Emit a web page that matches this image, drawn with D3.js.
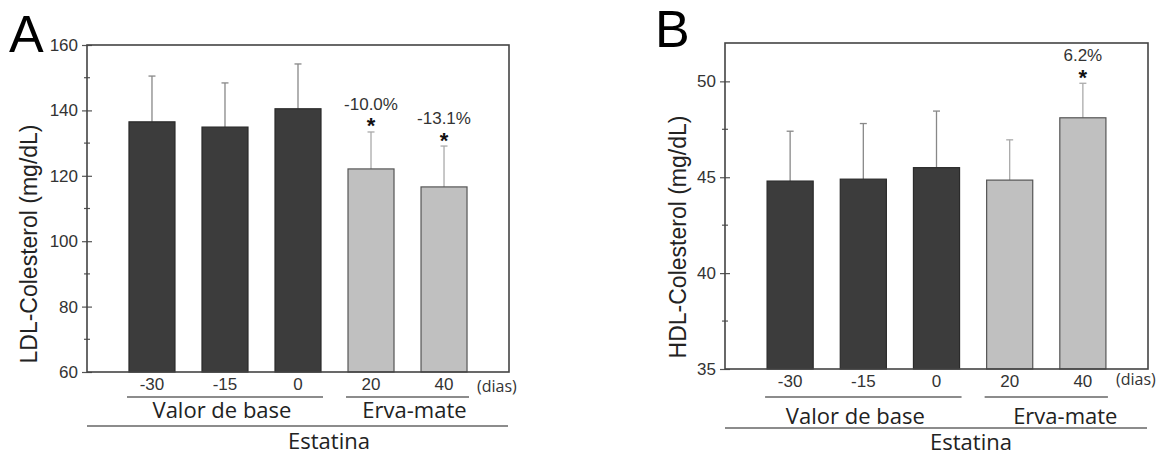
<!DOCTYPE html>
<html>
<head>
<meta charset="utf-8">
<script src="https://cdn.jsdelivr.net/npm/d3@7"></script>
<style>
  body { margin: 0; background: #fff; }
  svg { display: block; }
</style>
</head>
<body>
<svg id="chart" width="1163" height="455"></svg>
<script>
// DATA
var dias = ['-30', '-15', '0', '20', '40'];
var grupos = ['Valor de base', 'Erva-mate'];
var grupoDoDia = [0, 0, 0, 1, 1];

var ldlMedia = [136.5, 134.9, 140.5, 122.1, 116.6];
var ldlErro = [14.0, 13.5, 13.7, 11.3, 12.5];
var ldlVariacao = ['', '', '', '-10.0%', '-13.1%'];
var ldlTicks = [60, 80, 100, 120, 140, 160];

var hdlMedia = [44.8, 44.9, 45.5, 44.85, 48.1];
var hdlErro = [2.6, 2.9, 2.95, 2.1, 1.8];
var hdlVariacao = ['', '', '', '', '6.2%'];
var hdlTicks = [35, 40, 45, 50];

var svg = d3.select('#chart');

var corEscura = '#3c3c3c';
var corClara = '#c0c0c0';

// draws one panel, left/top/right/bottom = frame in pixels
function drawPanel(p) {
    var g = svg.append('g');

    var x = d3.scaleBand()
        .domain(dias)
        .range([p.left, p.right])
        .paddingInner(0.37)
        .paddingOuter(0.575);

    var y = d3.scaleLinear()
        .domain(p.domain)
        .range([p.bottom, p.top]);

    // minor ticks at half steps
    var passo = p.ticks[1] - p.ticks[0];
    var menores = d3.range(p.domain[0] + passo / 2, p.domain[1], passo);

    g.selectAll('.menor').data(menores).enter().append('line')
        .attr('x1', p.left - 3).attr('x2', p.left + 3)
        .attr('y1', function(d){ return y(d); })
        .attr('y2', function(d){ return y(d); })
        .attr('stroke', '#555').attr('stroke-width', 1.2);

    var eixo = d3.axisLeft(y).tickValues(p.ticks).tickSize(5).tickPadding(4);
    var ga = g.append('g').attr('transform', 'translate(' + p.left + ',0)').call(eixo);
    ga.select('.domain').remove();
    ga.selectAll('.tick line').attr('stroke', '#555').attr('stroke-width', 1.2).attr('x2', 5).attr('x1', -5);
    ga.selectAll('.tick text')
        .attr('font-family', 'Liberation Sans, Arial, sans-serif')
        .attr('font-size', 17).attr('fill', '#333');

    // error bars (behind the bars)
    var erro = g.selectAll('.erro').data(p.media).enter().append('g');
    erro.append('line')
        .attr('x1', function(d, i){ return x(dias[i]) + x.bandwidth() / 2; })
        .attr('x2', function(d, i){ return x(dias[i]) + x.bandwidth() / 2; })
        .attr('y1', function(d){ return y(d); })
        .attr('y2', function(d, i){ return y(d + p.erro[i]); })
        .attr('stroke', function(d, i){ return grupoDoDia[i] ? '#aaa' : '#888'; })
        .attr('stroke-width', 1.3);
    erro.append('line')
        .attr('x1', function(d, i){ return x(dias[i]) + x.bandwidth() / 2 - 3.5; })
        .attr('x2', function(d, i){ return x(dias[i]) + x.bandwidth() / 2 + 3.5; })
        .attr('y1', function(d, i){ return y(d + p.erro[i]); })
        .attr('y2', function(d, i){ return y(d + p.erro[i]); })
        .attr('stroke', function(d, i){ return grupoDoDia[i] ? '#aaa' : '#888'; })
        .attr('stroke-width', 1.3);

    g.selectAll('.barra').data(p.media).enter().append('rect')
        .attr('x', function(d, i){ return x(dias[i]); })
        .attr('y', function(d){ return y(d); })
        .attr('width', x.bandwidth())
        .attr('height', function(d){ return y(p.domain[0]) - y(d); })
        .attr('fill', function(d, i){ return grupoDoDia[i] ? corClara : corEscura; })
        .attr('stroke', function(d, i){ return grupoDoDia[i] ? '#555' : '#2a2a2a'; })
        .attr('stroke-width', 1.2);

    // percent change + asterisk
    p.media.forEach(function(d, i){
        if (!p.variacao[i]) return;
        var cx = x(dias[i]) + x.bandwidth() / 2;
        var topo = y(d + p.erro[i]);
        g.append('text').attr('x', cx).attr('y', topo - 22)
            .attr('text-anchor', 'middle')
            .attr('font-family', 'Liberation Sans, Arial, sans-serif')
            .attr('font-size', 17).attr('fill', '#333')
            .text(p.variacao[i]);
        g.append('text').attr('x', cx).attr('y', topo - 11.5 + 13)
            .attr('text-anchor', 'middle')
            .attr('font-family', 'Liberation Sans, Arial, sans-serif')
            .attr('font-weight', 'bold')
            .attr('font-size', 22).attr('fill', '#111')
            .text('*');
    });

    // frame
    g.append('rect')
        .attr('x', p.left).attr('y', p.top)
        .attr('width', p.right - p.left).attr('height', p.bottom - p.top)
        .attr('fill', 'none').attr('stroke', '#444').attr('stroke-width', 1.6);

    // x tick labels
    g.selectAll('.dia').data(dias).enter().append('text')
        .attr('x', function(d){ return x(d) + x.bandwidth() / 2; })
        .attr('y', p.bottom + p.diaY)
        .attr('text-anchor', 'middle')
        .attr('font-family', 'Liberation Sans, Arial, sans-serif')
        .attr('font-size', 17).attr('fill', '#333')
        .text(function(d){ return d; });

    g.append('text')
        .attr('x', p.right - 32).attr('y', p.bottom + p.diasY)
        .attr('font-family', 'Open Sans, sans-serif')
        .attr('font-size', 16).attr('fill', '#333')
        .text('(dias)');

    // group lines and labels
    grupos.forEach(function(nome, k){
        var membros = dias.filter(function(d, i){ return grupoDoDia[i] === k; });
        var x0 = x(membros[0]) - 2;
        var x1 = x(membros[membros.length - 1]) + x.bandwidth() + 2;
        g.append('line')
            .attr('x1', x0).attr('x2', x1)
            .attr('y1', p.bottom + p.linhaGrupo).attr('y2', p.bottom + p.linhaGrupo)
            .attr('stroke', '#666').attr('stroke-width', 1.5);
        g.append('text')
            .attr('x', (x0 + x1) / 2 + p.ajusteGrupo[k]).attr('y', p.bottom + p.textoGrupo)
            .attr('text-anchor', 'middle')
            .attr('font-family', 'Open Sans, sans-serif')
            .attr('font-size', 22).attr('fill', '#222')
            .text(nome);
    });

    g.append('line')
        .attr('x1', p.left).attr('x2', p.right - 1)
        .attr('y1', p.bottom + p.linhaEstatina).attr('y2', p.bottom + p.linhaEstatina)
        .attr('stroke', '#666').attr('stroke-width', 1.5);
    g.append('text')
        .attr('x', p.estatinaX).attr('y', p.bottom + p.textoEstatina)
        .attr('text-anchor', 'middle')
        .attr('font-family', 'Open Sans, sans-serif')
        .attr('font-size', 22).attr('fill', '#222')
        .text('Estatina');

    // y label
    g.append('text')
        .attr('transform', 'translate(' + p.rotuloX + ',' + p.rotuloY + ') rotate(-90)')
        .attr('text-anchor', 'middle')
        .attr('font-family', 'Liberation Sans, Arial, sans-serif')
        .attr('font-size', 23).attr('fill', '#222')
        .text(p.rotulo);

    // panel letter
    g.append('text')
        .attr('x', p.letraX).attr('y', p.letraY)
        .attr('font-family', 'Liberation Sans, Arial, sans-serif')
        .attr('font-size', 52).attr('fill', '#000')
        .text(p.letra);
}

drawPanel({
    left: 87, right: 509, top: 45, bottom: 372,
    domain: [60, 160], ticks: ldlTicks,
    media: ldlMedia, erro: ldlErro, variacao: ldlVariacao,
    diaY: 18, diasY: 20, linhaGrupo: 25, textoGrupo: 46, ajusteGrupo: [-3, 7],
    linhaEstatina: 54, textoEstatina: 77, estatinaX: 329,
    rotulo: 'LDL-Colesterol (mg/dL)', rotuloX: 37, rotuloY: 244,
    letra: 'A', letraX: 9, letraY: 52
});

drawPanel({
    left: 725, right: 1148, top: 43, bottom: 369,
    domain: [35, 52], ticks: hdlTicks,
    media: hdlMedia, erro: hdlErro, variacao: hdlVariacao,
    diaY: 18, diasY: 16, linhaGrupo: 28, textoGrupo: 55, ajusteGrupo: [-8, 19],
    linhaEstatina: 59, textoEstatina: 81, estatinaX: 971,
    rotulo: 'HDL-Colesterol (mg/dL)', rotuloX: 686, rotuloY: 237,
    letra: 'B', letraX: 655, letraY: 47
});
</script>
</body>
</html>
